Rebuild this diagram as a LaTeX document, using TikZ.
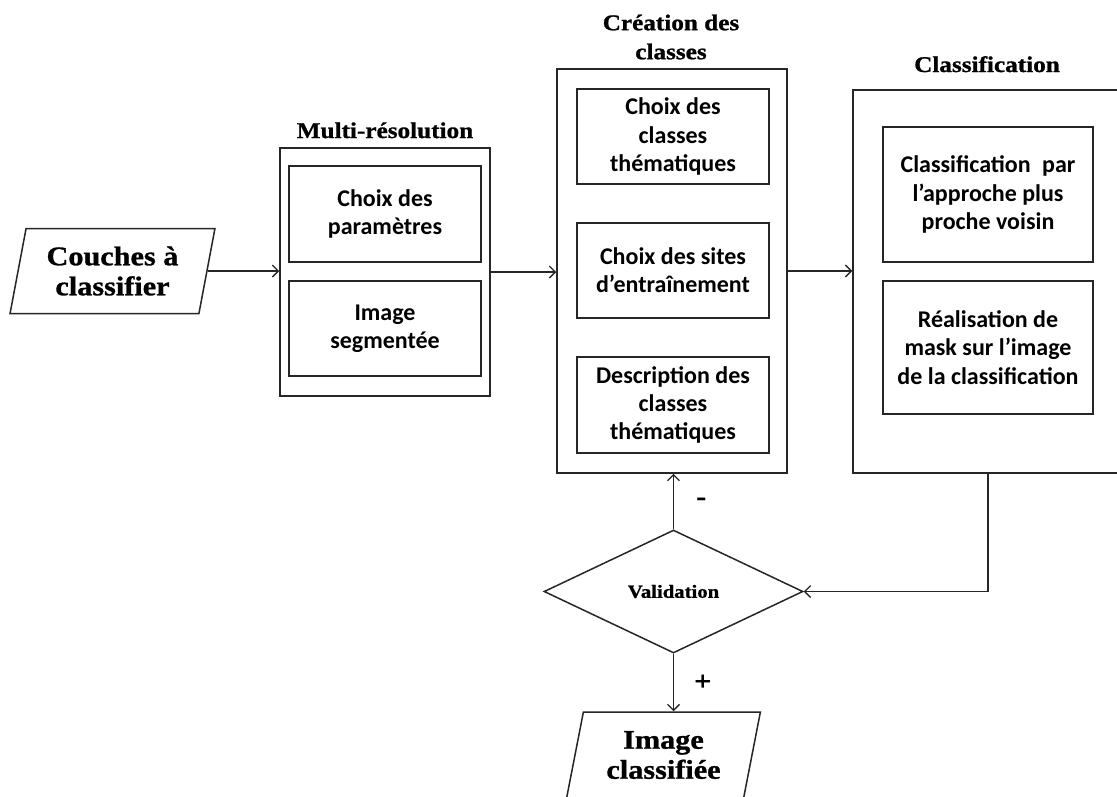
\documentclass[tikz,border=0pt]{standalone}
\usepackage{fontspec}
\usetikzlibrary{shapes.geometric,arrows.meta}
\newfontfamily\tfont[FakeStretch=1.12,FakeBold=1]{Liberation Serif}
\newfontfamily\bfont{Carlito}
\definecolor{linec}{HTML}{262626}
\begin{document}
\begin{tikzpicture}[x=1pt,y=-1pt,
  outer/.style={draw=linec, line width=1.5pt, inner sep=0pt},
  inbox/.style={draw=linec, line width=1.5pt, inner sep=0pt, align=center,
    font=\bfont\bfseries\fontsize{24}{28.3}\selectfont},
  ttl/.style={inner sep=0pt, align=center, font=\tfont\bfseries\fontsize{22.5}{29}\selectfont},
  para/.style={draw=linec, line width=1.5pt, shape=trapezium, trapezium left angle=76,
    trapezium right angle=104, trapezium stretches=true, inner sep=0pt, align=center,
    font=\tfont\bfseries\fontsize{27}{30}\selectfont},
  arr/.style={draw=linec, line width=1.3pt, -{Straight Barb[length=6pt,width=12pt,line width=1.3pt]}},
  lbl/.style={inner sep=0pt, font=\tfont\bfseries\fontsize{27}{30}\selectfont}
]
\useasboundingbox (0,0) rectangle (1117,796);
\clip (0,0) rectangle (1117,796);
\fill[white] (0,0) rectangle (1117,796);

% input
\node[para, minimum width=205pt, minimum height=85pt] (couches) at (112.5,271) {Couches à\\classifier};

% multi-resolution
\node[outer, minimum width=210pt, minimum height=248pt] (multi) at (385,272) {};
\node[inbox, minimum width=192pt, minimum height=96pt] (m1) at (385,214) {Choix des\\paramètres};
\node[inbox, minimum width=192pt, minimum height=95pt] (m2) at (385,328.5) {Image\\segmentée};
\node[ttl, anchor=base] (tmulti) at (385,138) {Multi-résolution};

% creation des classes
\node[outer, minimum width=230pt, minimum height=404pt] (cre) at (672,271) {};
\node[inbox, minimum width=192pt, minimum height=95pt] (c1) at (673,136.5) {Choix des\\classes\\thématiques};
\node[inbox, minimum width=192pt, minimum height=95pt] (c2) at (673,270.5) {Choix des sites\\d’entraînement};
\node[inbox, minimum width=192pt, minimum height=96pt] (c3) at (673,405) {Description des\\classes\\thématiques};
\node[ttl] (tcre) at (671,37) {Création des\\classes};

% classification
\node[outer, minimum width=270pt, minimum height=383pt] (cls) at (988,281.5) {};
\node[inbox, minimum width=210pt, minimum height=135pt] (k1) at (988,194.5) {Classification\hspace{0.25em} par\\l’approche plus\\proche voisin};
\node[inbox, minimum width=210pt, minimum height=133pt] (k2) at (988,347.5) {Réalisation de\\mask sur l’image\\de la classification};
\node[ttl, anchor=base] (tcls) at (987,72) {Classification};

% validation
\node[draw=linec, line width=1.5pt, shape=diamond, minimum width=259pt, minimum height=123pt,
  inner sep=0pt, font=\tfont\bfseries\fontsize{18.5}{22}\selectfont] (valid) at (673.5,591.5) {Validation};

% output
\node[para, minimum width=194pt, minimum height=86pt] (img) at (663.5,755) {Image\\classifiée};

% connectors
\draw[arr] (couches.east) -- (couches.east -| multi.west);
\draw[arr] (multi.east) -- (multi.east -| cre.west);
\draw[arr] (cre.east) -- (cre.east -| cls.west);
\draw[arr] (cls.south) |- (valid.east);
\draw[arr] (valid.north) -- node[lbl, right, xshift=22pt] (minus) {-} (valid.north |- cre.south);
\draw[arr] (valid.south) -- node[lbl, right, xshift=20pt] (plus) {+} (valid.south |- img.north);
\end{tikzpicture}
\end{document}
